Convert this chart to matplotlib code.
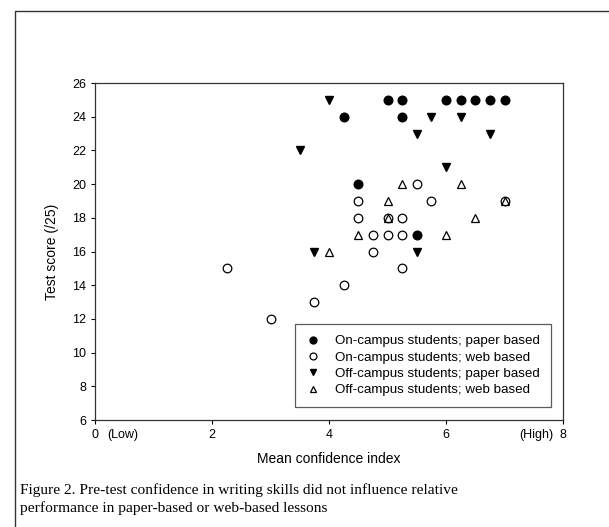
import matplotlib
matplotlib.use('Agg')
import matplotlib.pyplot as plt
from matplotlib.lines import Line2D

plt.rcParams['font.family'] = ['Liberation Sans', 'DejaVu Sans']

# 데이터: (confidence index, test score)
on_paper_x = [5, 5.25, 6, 6.25, 6.5, 6.75, 7, 4.25, 5.25, 4.5, 5.5]
on_paper_y = [25, 25, 25, 25, 25, 25, 25, 24, 24, 20, 17]

on_web_x = [5.5, 4.5, 5.75, 7, 4.5, 5, 5.25, 4.75, 5, 5.25, 4.75, 5.25, 2.25, 4.25, 3.75, 3]
on_web_y = [20, 19, 19, 19, 18, 18, 18, 17, 17, 17, 16, 15, 15, 14, 13, 12]

off_paper_x = [4, 5.75, 6.25, 5.5, 6.75, 3.5, 6, 3.75, 5.5]
off_paper_y = [25, 24, 24, 23, 23, 22, 21, 16, 16]

off_web_x = [5.25, 6.25, 5, 7, 5, 6.5, 4.5, 6, 4]
off_web_y = [20, 20, 19, 19, 18, 18, 17, 17, 16]

x_ticks = [0, 2, 4, 6, 8]
y_ticks = list(range(6, 27, 2))

fig = plt.figure(figsize=(6.09, 5.27), dpi=100)
ax = fig.add_axes([0.156, 0.203, 0.7685, 0.6395])

ms = 6.2
ax.plot(on_paper_x, on_paper_y, 'o', ms=ms, mfc='black', mec='black', ls='none',
        label='On-campus students; paper based')
ax.plot(on_web_x, on_web_y, 'o', ms=ms, mfc='white', mec='black', mew=0.9, ls='none',
        label='On-campus students; web based')
ax.plot(off_paper_x, off_paper_y, 'v', ms=ms, mfc='black', mec='black', ls='none',
        label='Off-campus students; paper based')
ax.plot(off_web_x, off_web_y, '^', ms=ms, mfc='none', mec='black', mew=0.9, ls='none',
        label='Off-campus students; web based')

ax.set_xlim(0, 8)
ax.set_ylim(6, 26)
ax.set_xticks(x_ticks)
ax.set_yticks(y_ticks)
ax.tick_params(direction='out', length=3, width=0.8, labelsize=9, colors='black',
               top=False, right=False)
for sp in ax.spines.values():
    sp.set_linewidth(0.9)
    sp.set_color('#333333')

ax.set_xlabel('Mean confidence index', fontsize=10, labelpad=8)
ax.set_ylabel('Test score (/25)', fontsize=10, labelpad=9)

# (Low) / (High) 표시
ax.annotate('(Low)', xy=(0, 0), xycoords=('data', 'axes fraction'),
            xytext=(9, -6.5), textcoords='offset points', ha='left', va='top', fontsize=9)
ax.annotate('(High)', xy=(8, 0), xycoords=('data', 'axes fraction'),
            xytext=(-7, -6.5), textcoords='offset points', ha='right', va='top', fontsize=9)

leg = ax.legend(loc='lower right', bbox_to_anchor=(0.974, 0.039), borderaxespad=0,
                fontsize=9.6, frameon=True, fancybox=False, handletextpad=1.2,
                handlelength=1.0, labelspacing=0.3, borderpad=0.8, markerscale=0.8)
leg.get_frame().set_edgecolor('#333333')
leg.get_frame().set_linewidth(0.9)

# 바깥 테두리
fx = 15 / 609
fy = 1 - 11 / 527
fig.add_artist(Line2D([fx, fx, 1.0], [0, fy, fy], transform=fig.transFigure,
                      color='#333333', lw=1.0))

fig.text(20 / 609, 1 - 483 / 527,
         'Figure 2. Pre-test confidence in writing skills did not influence relative\n'
         'performance in paper-based or web-based lessons',
         family=['Liberation Serif', 'DejaVu Serif'], fontsize=11.1, va='top',
         ha='left', linespacing=1.45)

fig.savefig('out.png', dpi=100)
